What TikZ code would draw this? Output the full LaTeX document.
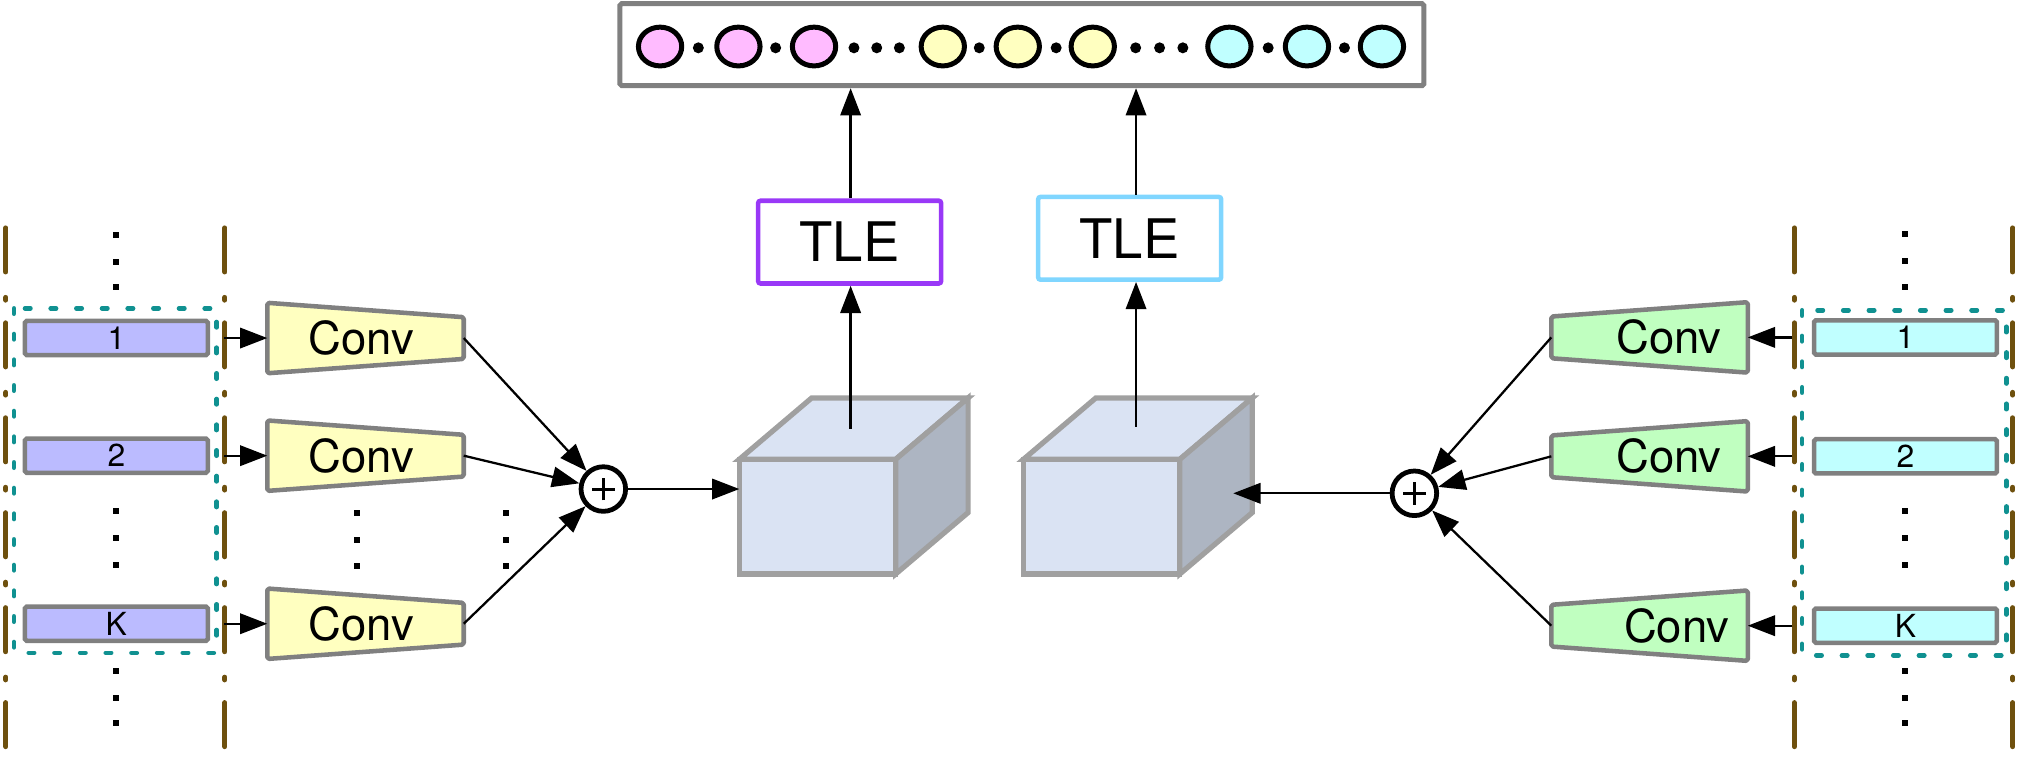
\documentclass[tikz,border=0pt]{standalone}
\usepackage{fontspec}
\setmainfont{TeX Gyre Heros}
\usetikzlibrary{arrows.meta,shapes.geometric,calc}
\definecolor{brn}{RGB}{110,80,14}
\definecolor{tealc}{RGB}{16,145,145}
\definecolor{gbord}{RGB}{128,128,128}
\definecolor{barL}{RGB}{187,187,255}
\definecolor{barR}{RGB}{192,255,255}
\definecolor{convY}{RGB}{255,255,192}
\definecolor{convG}{RGB}{192,255,192}
\definecolor{cubeb}{RGB}{160,160,160}
\definecolor{cubef}{RGB}{218,227,243}
\definecolor{cubes}{RGB}{173,181,194}
\definecolor{tleP}{RGB}{153,56,247}
\definecolor{tleB}{RGB}{128,214,255}
\definecolor{pk}{RGB}{255,187,255}
\definecolor{yl}{RGB}{255,255,192}
\definecolor{cy}{RGB}{192,255,255}
\begin{document}
\begin{tikzpicture}[x=0.02cm,y=-0.02cm,
  brnline/.style={draw=brn, line width=2.2pt, line cap=round, dash pattern=on 19.4pt off 11.2pt on 1.2pt off 10pt},
  tealbox/.style={draw=tealc, line width=2pt, line cap=round, dash pattern=on 2.4pt off 8.9pt},
  bar/.style={draw=gbord, line width=2pt, rounded corners=0.8pt, minimum width=2.83cm, minimum height=0.53cm, inner sep=0pt, font=\fontsize{14}{15}\selectfont},
  convbox/.style={minimum width=3.04cm, minimum height=1.09cm, inner sep=0pt, outer sep=0pt},
  convline/.style={draw=gbord, line width=2pt, line join=round, rounded corners=0.8pt},
  convtxt/.style={font=\fontsize{20}{22}\selectfont, inner sep=0pt},
  plusc/.style={circle, draw=black, line width=2.1pt, minimum size=0.69cm, inner sep=0pt, fill=white},
  plusbar/.style={line width=1.3pt},
  tle/.style={rectangle, line width=2pt, rounded corners=1pt, minimum width=2.83cm, minimum height=1.28cm, inner sep=0pt, fill=white, font=\fontsize{24}{26}\selectfont},
  topbox/.style={rectangle, draw=gbord, line width=2.2pt, rounded corners=0.8pt, fill=white, minimum width=12.44cm, minimum height=1.27cm},
  bigell/.style={ellipse, draw=black, line width=2.2pt, minimum width=0.67cm, minimum height=0.6cm, inner sep=0pt},
  smalldot/.style={circle, fill=black, minimum size=0.17cm, inner sep=0pt},
  sqdot/.style={rectangle, fill=black, minimum size=0.093cm, inner sep=0pt},
  cubefront/.style={rectangle, draw=cubeb, fill=cubef, line width=2.3pt, minimum width=2.42cm, minimum height=1.774cm, outer sep=0pt},
  cubeface/.style={draw=cubeb, line width=2.3pt, line join=miter},
  arr/.style={-{Triangle[length=12pt,width=9pt]}, line width=1pt}
]
\useasboundingbox (0,0) rectangle (1568,597);

% brown dash-dot column lines
\foreach \x in {4.5,174,1388,1557}
  \draw[brnline] (\x,176.3) -- (\x,580);

% teal dotted groups
\draw[tealbox] (10.8,238.5) rectangle (167.6,505);
\draw[tealbox] (1394,240) rectangle (1552,507);

% input bars
\node[bar, fill=barL] (bL1) at (90,261.5) {1};
\node[bar, fill=barL] (bL2) at (90,352.5) {2};
\node[bar, fill=barL] (bL3) at (90,482.5) {K};
\node[bar, fill=barR] (bR1) at (1474,261) {1};
\node[bar, fill=barR] (bR2) at (1474,353) {2};
\node[bar, fill=barR] (bR3) at (1474,484) {K};

% vertical dots
\foreach \x/\y [count=\i] in {89.7/181.8,89.7/202.4,89.7/221.8,89.7/395,89.7/416,89.7/437,89.7/519,89.7/540,89.7/559,
  276/397,276/418,276/438,391.6/397,391.6/418,391.6/438,
  1473.5/181,1473.5/202,1473.5/222,1473.5/395,1473.5/416,1473.5/437,1473.5/519,1473.5/540,1473.5/559}
  \node[sqdot] (q\i) at (\x,\y) {};

% left Conv blocks
\foreach \n/\y in {1/261.5,2/352.5,3/482.5}{
  \node[convbox] (cL\n) at (282.75,\y) {};
  \draw[convline, fill=convY] (cL\n.north west) -- ([yshift=-0.222cm]cL\n.north east) -- ([yshift=0.222cm]cL\n.south east) -- (cL\n.south west) -- cycle;
  \node[convtxt] (tL\n) at (279.3,\y) {Conv};
}
% right Conv blocks
\foreach \n/\y/\tx in {1/261/1291,2/353/1291,3/484/1297}{
  \node[convbox] (cR\n) at (1276,\y) {};
  \draw[convline, fill=convG] (cR\n.north east) -- (cR\n.south east) -- ([yshift=0.222cm]cR\n.south west) -- ([yshift=-0.222cm]cR\n.north west) -- cycle;
  \node[convtxt] (tR\n) at (\tx,\y) {Conv};
}

% plus nodes
\node[plusc] (pL) at (466.7,378.3) {};
\node[plusc] (pR) at (1094.1,381.6) {};
\foreach \p in {pL,pR}{
  \draw[plusbar] ([xshift=-0.175cm]\p.center) -- ([xshift=0.175cm]\p.center);
  \draw[plusbar] ([yshift=-0.175cm]\p.center) -- ([yshift=0.175cm]\p.center);
}

% bars -> conv -> plus
\foreach \n in {1,2,3}{
  \draw[arr, shorten <=6.3pt] (bL\n.east) -- (cL\n.west);
  \draw[arr, shorten <=8.5pt] (bR\n.west) -- (cR\n.east);
  \draw[arr] (cL\n.east) -- (pL);
  \draw[arr] (cR\n.west) -- (pR);
}

% cubes
\node[cubefront] (cubeL) at (632.4,399.65) {};
\draw[cubeface, fill=cubef] (cubeL.north west) -- ++(56,-47.5) -- ++(121,0) -- (cubeL.north east) -- cycle;
\draw[cubeface, fill=cubes] (cubeL.north east) -- ++(56,-47.5) -- ++(0,88.7) -- (cubeL.south east) -- cycle;
\node[cubefront] (cubeR) at (852.2,399.65) {};
\draw[cubeface, fill=cubef] (cubeR.north west) -- ++(56,-47.5) -- ++(121,0) -- (cubeR.north east) -- cycle;
\draw[cubeface, fill=cubes] (cubeR.north east) -- ++(56,-47.5) -- ++(0,88.7) -- (cubeR.south east) -- cycle;
\coordinate (cLtop) at (658,331.5);
\coordinate (cRtop) at (878.8,330);
\coordinate (cRin) at (954,381.6);

% TLE blocks and output sequence
\node[tle, draw=tleP] (tleL) at (657.25,187.3) {TLE};
\node[tle, draw=tleB] (tleR) at (873.85,184.35) {TLE};
\node[topbox] (top) at (790.5,34.55) {};
\foreach \x/\c [count=\i] in {510.6/pk,571.2/pk,629.7/pk,729.3/yl,787.3/yl,845.3/yl,951/cy,1011/cy,1069/cy}
  \node[bigell, fill=\c] (e\i) at (\x,36) {};
\foreach \x [count=\i] in {540.2,600,660.6,678.2,695.7,757.5,817,878.5,897,915,981,1040}
  \node[smalldot] (s\i) at (\x,37) {};

% connectors
\draw[arr] (pL.east) -- (pL.east -| cubeL.west);
\draw[arr] (pR.west) -- (pR.west -| cRin);
\draw[arr] (cLtop) -- (cLtop |- tleL.south);
\draw[arr] (tleL.north -| cLtop) -- (cLtop |- top.south);
\draw[arr] (cRtop) -- (cRtop |- tleR.south);
\draw[arr] (tleR.north -| cRtop) -- (cRtop |- top.south);
\end{tikzpicture}
\end{document}
